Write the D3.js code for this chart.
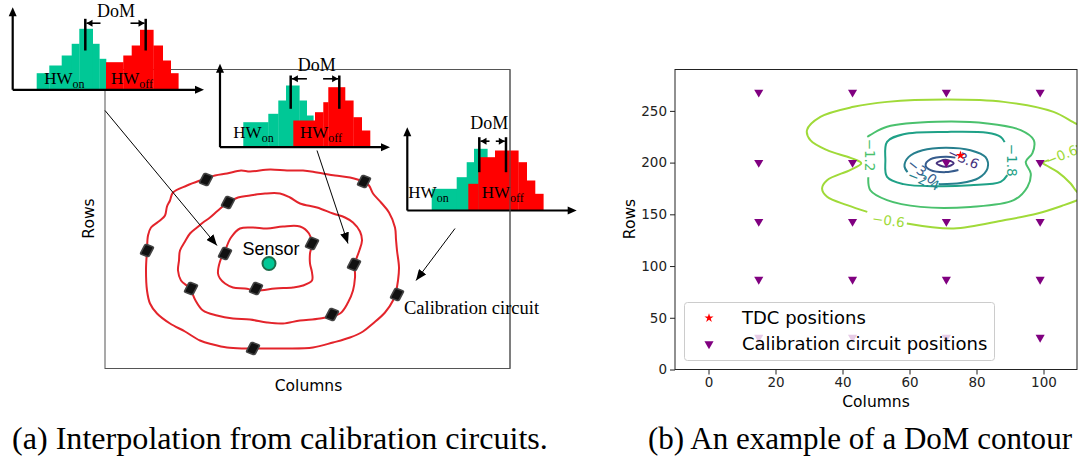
<!DOCTYPE html>
<html>
<head>
<meta charset="utf-8">
<script src="https://cdn.jsdelivr.net/npm/d3@7"></script>
<style>
  body { margin: 0; background: #fff; }
  svg { display: block; }
</style>
</head>
<body>
<svg id="fig" width="1081" height="461"></svg>
<script>
// ---------- panel (b) data ----------
const calibCols = [15, 43, 71, 99]
const calibRows = [31, 87, 143, 200, 268]
const tdcPositions = [[75.2, 207]]
const xTicks = [0, 20, 40, 60, 80, 100]
const yTicks = [0, 50, 100, 150, 200, 250]

// contour paths, one list of segments per level
const contour06 = [
  [[59.2, 141.1], [73.2, 136.3], [88.2, 144.3], [98.2, 150.8], [106.1, 158.9], [110.2, 163.8], [113, 167.5],
    [110.2, 171], [108.1, 179.8], [104.2, 191], [100.9, 197.2], [99.8, 199.6], [101.6, 202.4]],
  [[109.6, 215.8], [112.6, 220], [113.5, 228], [112, 235], [109.6, 237.8], [103, 249], [88.1, 258.7],
    [71.3, 261], [53.3, 258.7], [43.3, 253.9], [33.4, 244.2], [29.4, 231.4], [30.4, 221.7], [35.4, 212],
    [42.4, 204.5], [45.6, 199.4], [42.4, 193], [35.4, 183], [33.9, 175], [35.4, 166.9], [41.4, 158.9], [47.4, 152.4]]
]
const contour12 = [
  [[47.7, 185.9], [48.3, 173.3], [53.3, 163.7], [63.3, 157.2], [78.2, 157.2], [91.1, 163.7], [95.2, 176.5],
    [96.2, 189.5], [94.7, 200.7], [96.7, 209.1], [97.1, 221.7], [93.2, 231.4], [83.2, 237.8], [68.3, 239.4],
    [53.3, 234.6], [47.4, 224.9]]
]
const contour18 = [
  [[89.2, 187.9], [87.2, 181.4], [78.2, 178.2], [68.3, 177.2], [58.2, 179.2], [53.3, 186.2], [52.8, 202.4],
    [53.3, 220.1], [58.2, 227.5], [71.3, 229.7], [83.2, 228.8], [87.2, 224.9], [88.4, 219.8]]
]
const contour24 = [
  [[68.7, 179.2], [75.3, 180.2], [80.6, 185.0], [83.3, 194.6], [82.7, 205.3], [78.2, 212.0], [70.8, 214.4],
    [63.9, 212.0], [59.7, 205.3], [58.5, 196.6], [59.4, 190.8]]
]
const contour30 = [
  [[74.6, 192.8], [70.8, 190.8], [66.3, 192.7], [64.8, 197.5], [66.3, 203.3], [70.8, 205.7], [73.7, 204.8]]
]
const contour36 = [
  [[68.1, 199.3], [70.8, 202.7], [73.2, 199.3], [70.8, 195.9]]
]
const levels = [-0.6, -1.2, -1.8, -2.4, -3.0, -3.6]
const contourPaths = [contour06, contour12, contour18, contour24, contour30, contour36]
// level, x, y, angle
const contourLabels = [
  [-0.6, 53.7, 144.1, 8], [-0.6, 105.4, 207.3, -22], [-1.2, 48.3, 207.3, 90], [-1.8, 90.5, 202.4, 90],
  [-2.4, 64.2, 183.0, 22], [-3.0, 63.8, 191.5, 38], [-3.6, 76.1, 204.3, 25]
]

// ---------- panel (a) data ----------
const outerRing = [[68, 123], [82, 116], [95, 111], [110, 106], [122, 104], [136, 101], [145, 102], [165, 100], [182, 101],
  [198, 101], [212, 103], [230, 106], [245, 108], [258, 112], [264, 116], [268, 124], [276, 133], [284, 143], [290, 158],
  [291, 170], [292, 181], [294, 198], [293, 211], [291, 222], [288, 231], [280, 243], [268, 254], [258, 262], [245, 268],
  [228, 273], [208, 278], [180, 279], [155, 279], [138, 279], [122, 278], [108, 275], [95, 271], [80, 262], [65, 254],
  [52, 244], [45, 234], [42, 221], [41, 200], [42, 181], [43, 166], [46, 158], [55, 151], [60, 146], [62, 137], [65, 131]]
const middleRing = [[92, 158], [98, 153], [105, 148], [113, 141], [123, 133], [133, 128], [145, 126], [160, 124], [175, 124],
  [185, 128], [195, 134], [212, 138], [228, 144], [240, 148], [248, 153], [255, 162], [257, 171], [254, 182], [250, 194],
  [250, 208], [248, 221], [243, 233], [235, 244], [215, 249], [195, 251], [178, 254], [162, 253], [145, 250], [128, 249],
  [112, 246], [98, 241], [90, 230], [85, 219], [76, 211], [73, 201], [74, 191], [75, 181], [80, 172], [85, 164]]
const innerRing = [[113, 204], [115, 192], [120, 181], [126, 168], [135, 159], [148, 158], [162, 159], [178, 157], [195, 157],
  [204, 164], [207, 174], [205, 184], [205, 194], [207, 203], [207, 211], [198, 216], [188, 218], [170, 219], [152, 221],
  [140, 219], [128, 218], [120, 214], [115, 209]]
const chips = [[101, 110], [259, 112], [42, 181], [292, 225], [148, 279],
  [123, 133], [249, 195], [86, 219], [227, 245],
  [120, 184], [207, 174], [151, 219]]
const sensor = [164, 194]

// histogram bins: [left, right, height] in inset units
const teal1 = [[24, 36.6, 16.6], [36.6, 49, 24.3], [49, 59, 34.3], [59, 66.6, 46], [66.6, 80, 61], [80, 86.6, 46], [86.6, 93.3, 31]]
const red1 = [[93.3, 110.6, 27.6], [110.6, 119, 34.3], [119, 127.3, 44.3], [127.3, 140.6, 60], [140.6, 150, 44.3], [150, 158, 29.3], [158, 165.6, 16.6]]
const teal2 = [[23.3, 48.3, 25], [48.3, 58.3, 33.4], [58.3, 66, 46.7], [66, 79.3, 61.7], [79.3, 86.7, 46.7], [86.7, 93.3, 31.7]]
const red2 = [[73.3, 95, 26.7], [95, 103.3, 35], [103.3, 108.3, 45], [108.3, 125, 60], [125, 133.3, 46.7], [133.3, 141.7, 30], [141.7, 150, 16.7]]
const teal3 = [[24.4, 49.4, 21.7], [49.4, 59.4, 33.3], [59.4, 66.7, 48.3], [66.7, 80, 61.7], [80, 86, 48.3]]
const red3 = [[61, 71, 26.7], [71, 87.7, 53.3], [87.7, 111, 60], [111, 119.4, 48.3], [119.4, 127.7, 30], [127.7, 136, 16.7]]

const svg = d3.select('#fig')
const defs = svg.append('defs')
defs.append('marker').attr('id', 'arr')
  .attr('markerUnits', 'userSpaceOnUse').attr('markerWidth', 11).attr('markerHeight', 9)
  .attr('refX', 11).attr('refY', 4.5).attr('orient', 'auto')
  .append('path').attr('d', 'M0,0L11,4.5L0,9Z').attr('fill', '#000')

// =============== panel (a) ===============
const sx = d3.scaleLinear().domain([0, 405]).range([105, 510])
const sy = d3.scaleLinear().domain([0, 299]).range([69.5, 368.5])
const pa = svg.append('g')

pa.append('rect').attr('x', sx(0)).attr('y', sy(0))
  .attr('width', sx(405) - sx(0)).attr('height', sy(299) - sy(0))
  .attr('fill', 'none').attr('stroke', '#555').attr('stroke-width', 1)

const ringLine = d3.line().x(d => sx(d[0])).y(d => sy(d[1])).curve(d3.curveCatmullRomClosed.alpha(0.5))
pa.selectAll('path.ring').data([outerRing, middleRing, innerRing]).enter().append('path').classed('ring', true)
  .attr('d', ringLine).attr('fill', 'none').attr('stroke', '#e3242b').attr('stroke-width', 2)

pa.selectAll('rect.chip').data(chips).enter().append('rect').classed('chip', true)
  .attr('x', -4.5).attr('y', -5.5).attr('width', 9).attr('height', 11).attr('rx', 1.5)
  .attr('transform', d => `translate(${sx(d[0])},${sy(d[1])}) rotate(20) skewX(-8)`)
  .attr('fill', '#111').attr('stroke', '#444').attr('stroke-width', 1.6)

pa.append('circle').attr('cx', sx(sensor[0])).attr('cy', sy(sensor[1])).attr('r', 6.5)
  .attr('fill', '#00c896').attr('stroke', '#1d6b4a').attr('stroke-width', 2)
pa.append('text').attr('x', sx(166)).attr('y', sy(185)).attr('text-anchor', 'middle')
  .style('font', '18px "Liberation Sans", Arial, sans-serif').text('Sensor')

const insets = [
  { o: [-92.3, 20.3], w: 191.3, h: 82.6, teal: teal1, red: red1, dom: [72.6, 133], domH: [39.3, 71], arH: 66.6, arL: 14, txt: [103.3, 73.3], hw: [31.6, 98.3], hwH: 6 },
  { o: [115, 77.7], w: 170, h: 83.4, teal: teal2, red: red2, dom: [70.7, 119.3], domH: [38.4, 71.7], arH: 68.4, arL: 15, txt: [96.7, 76.7], hw: [13.3, 80], hwH: 9.4 },
  { o: [302.3, 141], w: 169.4, h: 83.3, teal: teal3, red: red3, dom: [72, 98.7], domH: [38.3, 73.3], arH: 69.3, arL: 9, txt: [82, 81.7], hw: [1, 74.4], hwH: 12.7 }
]

insets.forEach(ins => {
  const g = pa.append('g').attr('transform', `translate(${sx(ins.o[0])},${sy(ins.o[1])})`)
  g.selectAll('rect.teal').data(ins.teal).enter().append('rect').classed('teal', true)
    .attr('x', d => d[0]).attr('y', d => -d[2]).attr('width', d => d[1] - d[0] + 0.3).attr('height', d => d[2])
    .attr('fill', '#00c896')
  g.selectAll('rect.red').data(ins.red).enter().append('rect').classed('red', true)
    .attr('x', d => d[0]).attr('y', d => -d[2]).attr('width', d => d[1] - d[0] + 0.3).attr('height', d => d[2])
    .attr('fill', '#ff0000')
  // axes with arrow heads
  g.append('path').attr('d', `M0,0V${-ins.h + 8}M0,0H${ins.w - 8}`)
    .attr('stroke', '#000').attr('stroke-width', 2.2).attr('fill', 'none')
  g.append('path').attr('d', `M-4,${-ins.h + 9}L0,${-ins.h}L4,${-ins.h + 9}Z`).attr('fill', '#000')
  g.append('path').attr('d', `M${ins.w - 9},-4L${ins.w},0L${ins.w - 9},4Z`).attr('fill', '#000')
  // DoM markers
  ins.dom.forEach(dx => {
    g.append('line').attr('x1', dx).attr('x2', dx).attr('y1', -ins.domH[0]).attr('y2', -ins.domH[1])
      .attr('stroke', '#000').attr('stroke-width', 2.5)
  })
  const a = ins.dom[0] + 1.2
  const b = ins.dom[1] - 1.2
  g.append('path').attr('d', `M${a},${-ins.arH}H${a + ins.arL}`).attr('stroke', '#000').attr('stroke-width', 1.6)
  g.append('path').attr('d', `M${a},${-ins.arH}L${a + 6},${-ins.arH - 3.5}L${a + 6},${-ins.arH + 3.5}Z`).attr('fill', '#000')
  g.append('path').attr('d', `M${b},${-ins.arH}H${b - ins.arL}`).attr('stroke', '#000').attr('stroke-width', 1.6)
  g.append('path').attr('d', `M${b},${-ins.arH}L${b - 6},${-ins.arH - 3.5}L${b - 6},${-ins.arH + 3.5}Z`).attr('fill', '#000')
  g.append('text').attr('x', ins.txt[0]).attr('y', -ins.txt[1]).attr('text-anchor', 'middle')
    .style('font', '18px "Liberation Serif", "Times New Roman", serif').text('DoM')
  ;['on', 'off'].forEach((sub, i) => {
    const t = g.append('text').attr('x', ins.hw[i]).attr('y', -ins.hwH)
      .style('font', '17px "Liberation Serif", "Times New Roman", serif')
    t.append('tspan').text('HW')
    t.append('tspan').attr('dy', 4).style('font-size', '12px').text(sub)
  })
})
// right frame edge runs over the third inset
pa.append('line').attr('x1', sx(405)).attr('x2', sx(405)).attr('y1', sy(0)).attr('y2', sy(299))
  .attr('stroke', '#555').attr('stroke-width', 1)

const arrows = [[[0, 41], [112, 176]], [[212, 81], [243, 174]], [[350, 159], [311, 211]]]
pa.selectAll('line.arrow').data(arrows).enter().append('line').classed('arrow', true)
  .attr('x1', d => sx(d[0][0])).attr('y1', d => sy(d[0][1]))
  .attr('x2', d => sx(d[1][0])).attr('y2', d => sy(d[1][1]))
  .attr('stroke', '#000').attr('stroke-width', 1).attr('marker-end', 'url(#arr)')

pa.append('text').attr('x', sx(299)).attr('y', sy(244.3))
  .style('font', '18.5px "Liberation Serif", "Times New Roman", serif').text('Calibration circuit')
pa.append('text').attr('x', sx(203.5)).attr('y', 390.5).attr('text-anchor', 'middle')
  .style('font', '15.5px "DejaVu Sans", sans-serif').text('Columns')
pa.append('text').attr('transform', 'translate(94,218.5) rotate(-90)').attr('text-anchor', 'middle')
  .style('font', '15.5px "DejaVu Sans", sans-serif').text('Rows')

// =============== panel (b) ===============
const x = d3.scaleLinear().domain([-10, 110]).range([675, 1077])
const y = d3.scaleLinear().domain([0, 290]).range([369.5, 69.5])
const color = d3.scaleSequential(d3.interpolateViridis).domain([-4.2, 0])
const pb = svg.append('g')

defs.append('clipPath').attr('id', 'plotclip').append('rect')
  .attr('x', 675).attr('y', 69.5).attr('width', 402).attr('height', 300)
const plot = pb.append('g').attr('clip-path', 'url(#plotclip)')

const cline = d3.line().x(d => x(d[0])).y(d => y(d[1])).curve(d3.curveCatmullRom.alpha(0.5))
const cclosed = d3.line().x(d => x(d[0])).y(d => y(d[1])).curve(d3.curveCatmullRomClosed.alpha(0.5))
levels.forEach((lv, i) => {
  const closed = i === levels.length - 1
  plot.selectAll(null).data(contourPaths[i]).enter().append('path')
    .attr('d', closed ? cclosed : cline)
    .attr('fill', 'none').attr('stroke', color(lv)).attr('stroke-width', 2)
})
plot.selectAll('text.clabel').data(contourLabels).enter().append('text').classed('clabel', true)
  .attr('transform', d => `translate(${x(d[1])},${y(d[2])}) rotate(${d[3]})`)
  .attr('text-anchor', 'middle').attr('dy', '0.36em')
  .attr('fill', d => color(d[0]))
  .style('font', '13.5px "DejaVu Sans", sans-serif')
  .text(d => d3.format('.1f')(d[0]).replace('-', '\u2212'))

const calib = calibRows.flatMap(r => calibCols.map(c => [c, r]))
const tri = d3.symbol().type(d3.symbolTriangle).size(36)
plot.selectAll('path.calib').data(calib).enter().append('path').classed('calib', true)
  .attr('d', tri).attr('transform', d => `translate(${x(d[0])},${y(d[1])}) rotate(180)`)
  .attr('fill', '#800080')
const star = d3.symbol().type(d3.symbolStar).size(26)
plot.selectAll('path.tdc').data(tdcPositions).enter().append('path').classed('tdc', true)
  .attr('d', star).attr('transform', d => `translate(${x(d[0])},${y(d[1])})`).attr('fill', '#ff0000')

// legend
const lg = pb.append('g')
lg.append('rect').attr('x', 684.5).attr('y', 302.5).attr('width', 310).attr('height', 58).attr('rx', 3)
  .attr('fill', '#fff').attr('fill-opacity', 0.8).attr('stroke', '#ccc')
lg.append('path').attr('d', star).attr('transform', 'translate(709,318)').attr('fill', '#ff0000')
lg.append('path').attr('d', tri).attr('transform', 'translate(709,344) rotate(180)').attr('fill', '#800080')
lg.append('text').attr('x', 742).attr('y', 323.8).style('font', '18px "DejaVu Sans", sans-serif').text('TDC positions')
lg.append('text').attr('x', 742).attr('y', 349.8).style('font', '18px "DejaVu Sans", sans-serif').text('Calibration circuit positions')

// axes
const xAxis = pb.append('g').attr('transform', 'translate(0,369.5)')
  .call(d3.axisBottom(x).tickValues(xTicks).tickSize(5).tickPadding(3))
const yAxis = pb.append('g').attr('transform', 'translate(675,0)')
  .call(d3.axisLeft(y).tickValues(yTicks).tickSize(5).tickPadding(3))
;[xAxis, yAxis].forEach(a => {
  a.select('.domain').remove()
  a.selectAll('text').style('font', '13.5px "DejaVu Sans", sans-serif').attr('fill', '#222')
  a.selectAll('line').attr('stroke', '#222')
})
pb.append('rect').attr('x', 675).attr('y', 69.5).attr('width', 402).attr('height', 300)
  .attr('fill', 'none').attr('stroke', '#222').attr('stroke-width', 1)
pb.append('text').attr('x', 876).attr('y', 407).attr('text-anchor', 'middle')
  .style('font', '15.5px "DejaVu Sans", sans-serif').text('Columns')
pb.append('text').attr('transform', 'translate(634.5,219) rotate(-90)').attr('text-anchor', 'middle')
  .style('font', '15.5px "DejaVu Sans", sans-serif').text('Rows')

// =============== captions ===============
const capFont = '"Liberation Serif", "DejaVu Serif", serif'
const capA = svg.append('text').attr('x', 12).attr('y', 449).style('font-family', capFont).style('font-size', '26px')
  .text('(a) Interpolation from calibration circuits.')
const capSize = 26 * 536 / capA.node().getComputedTextLength()
capA.style('font-size', capSize + 'px')
const capB = svg.append('text').attr('x', 648).attr('y', 449).style('font-family', capFont).style('font-size', capSize + 'px')
  .text('(b) An example of a DoM contour')
const wB = capB.node().getComputedTextLength()
if (wB > 424) capB.style('font-size', (capSize * 424 / wB) + 'px')
</script>
</body>
</html>
